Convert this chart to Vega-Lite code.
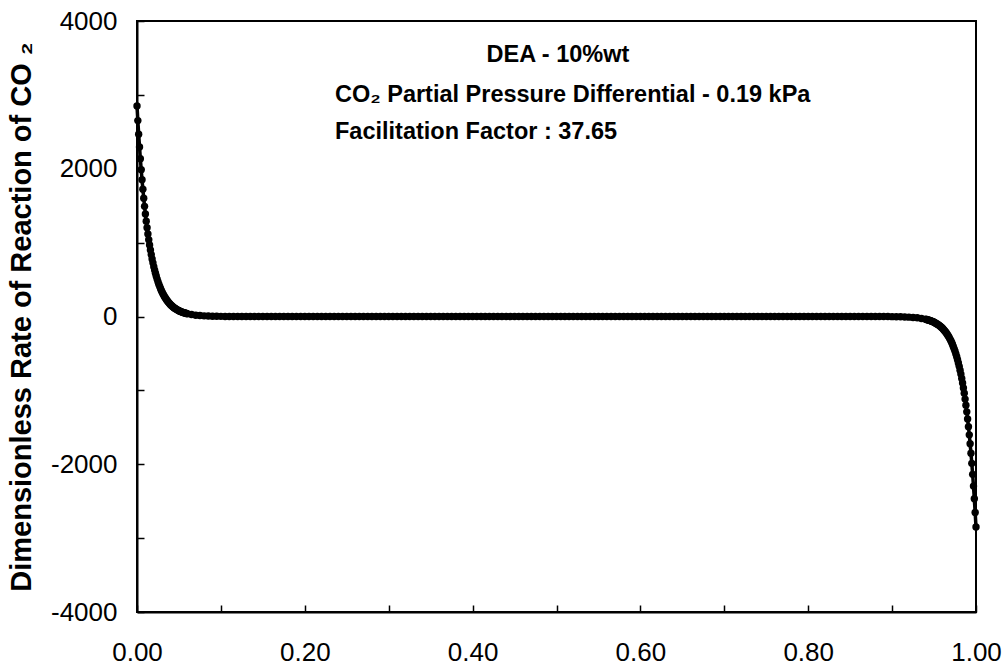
{
  "$schema": "https://vega.github.io/schema/vega-lite/v6.json",
  "width": 839,
  "height": 591,
  "autosize": {"type": "none"},
  "padding": {"left": 137, "top": 21, "right": 31, "bottom": 56},
  "background": "white",
  "config": {
    "font": "Liberation Sans",
    "view": {"stroke": "black", "strokeWidth": 2},
    "axis": {"grid": false, "domainColor": "black", "domainWidth": 2, "tickColor": "black", "tickWidth": 1.5, "tickSize": -7, "labelColor": "black", "labelFont": "Liberation Sans", "labelFontSize": 26, "labelFlush": false, "labelOverlap": false}
  },
  "datasets": {
    "curve": [
      {"x":0,"y":2850},{"x":0.001,"y":2652},{"x":0.002,"y":2468},{"x":0.003,"y":2296},{"x":0.004,"y":2137},{"x":0.005,"y":1988},{"x":0.006,"y":1850},{"x":0.007,"y":1722},{"x":0.008,"y":1602},{"x":0.009,"y":1491},
      {"x":0.010,"y":1387},{"x":0.011,"y":1291},{"x":0.012,"y":1201},{"x":0.013,"y":1118},{"x":0.014,"y":1040},{"x":0.015,"y":968},{"x":0.016,"y":901},{"x":0.017,"y":838},{"x":0.018,"y":780},{"x":0.019,"y":726},
      {"x":0.020,"y":675},{"x":0.021,"y":628},{"x":0.022,"y":585},{"x":0.023,"y":544},{"x":0.024,"y":506},{"x":0.025,"y":471},{"x":0.026,"y":438},{"x":0.027,"y":408},{"x":0.028,"y":380},{"x":0.029,"y":353},
      {"x":0.030,"y":329},{"x":0.031,"y":306},{"x":0.032,"y":285},{"x":0.033,"y":265},{"x":0.034,"y":246},{"x":0.035,"y":229},{"x":0.036,"y":213},{"x":0.037,"y":199},{"x":0.038,"y":185},{"x":0.039,"y":172},
      {"x":0.040,"y":160},{"x":0.041,"y":149},{"x":0.042,"y":139},{"x":0.043,"y":129},{"x":0.044,"y":120},{"x":0.045,"y":112},{"x":0.046,"y":104},{"x":0.047,"y":97},{"x":0.048,"y":90},{"x":0.049,"y":84},
      {"x":0.050,"y":78},{"x":0.051,"y":72},{"x":0.052,"y":67},{"x":0.053,"y":63},{"x":0.054,"y":58},{"x":0.055,"y":54},{"x":0.056,"y":51},{"x":0.057,"y":47},{"x":0.058,"y":44},{"x":0.059,"y":41},
      {"x":0.060,"y":38},{"x":0.065,"y":26},{"x":0.070,"y":18},{"x":0.075,"y":13},{"x":0.080,"y":9},{"x":0.085,"y":6},{"x":0.090,"y":4},{"x":0.095,"y":3},{"x":0.100,"y":2},{"x":0.105,"y":1},{"x":0.110,"y":1},
      {"x":0.115,"y":0},{"x":0.120,"y":0},{"x":0.125,"y":0},{"x":0.130,"y":0},{"x":0.135,"y":0},{"x":0.140,"y":0},{"x":0.145,"y":0},{"x":0.150,"y":0},{"x":0.155,"y":0},{"x":0.160,"y":0},
      {"x":0.165,"y":0},{"x":0.170,"y":0},{"x":0.175,"y":0},{"x":0.180,"y":0},{"x":0.185,"y":0},{"x":0.190,"y":0},{"x":0.195,"y":0},{"x":0.200,"y":0},{"x":0.205,"y":0},{"x":0.210,"y":0},
      {"x":0.215,"y":0},{"x":0.220,"y":0},{"x":0.225,"y":0},{"x":0.230,"y":0},{"x":0.235,"y":0},{"x":0.240,"y":0},{"x":0.245,"y":0},{"x":0.250,"y":0},{"x":0.255,"y":0},{"x":0.260,"y":0},
      {"x":0.265,"y":0},{"x":0.270,"y":0},{"x":0.275,"y":0},{"x":0.280,"y":0},{"x":0.285,"y":0},{"x":0.290,"y":0},{"x":0.295,"y":0},{"x":0.300,"y":0},{"x":0.305,"y":0},{"x":0.310,"y":0},
      {"x":0.315,"y":0},{"x":0.320,"y":0},{"x":0.325,"y":0},{"x":0.330,"y":0},{"x":0.335,"y":0},{"x":0.340,"y":0},{"x":0.345,"y":0},{"x":0.350,"y":0},{"x":0.355,"y":0},{"x":0.360,"y":0},
      {"x":0.365,"y":0},{"x":0.370,"y":0},{"x":0.375,"y":0},{"x":0.380,"y":0},{"x":0.385,"y":0},{"x":0.390,"y":0},{"x":0.395,"y":0},{"x":0.400,"y":0},{"x":0.405,"y":0},{"x":0.410,"y":0},
      {"x":0.415,"y":0},{"x":0.420,"y":0},{"x":0.425,"y":0},{"x":0.430,"y":0},{"x":0.435,"y":0},{"x":0.440,"y":0},{"x":0.445,"y":0},{"x":0.450,"y":0},{"x":0.455,"y":0},{"x":0.460,"y":0},
      {"x":0.465,"y":0},{"x":0.470,"y":0},{"x":0.475,"y":0},{"x":0.480,"y":0},{"x":0.485,"y":0},{"x":0.490,"y":0},{"x":0.495,"y":0},{"x":0.500,"y":0},{"x":0.505,"y":0},{"x":0.510,"y":0},
      {"x":0.515,"y":0},{"x":0.520,"y":0},{"x":0.525,"y":0},{"x":0.530,"y":0},{"x":0.535,"y":0},{"x":0.540,"y":0},{"x":0.545,"y":0},{"x":0.550,"y":0},{"x":0.555,"y":0},{"x":0.560,"y":0},
      {"x":0.565,"y":0},{"x":0.570,"y":0},{"x":0.575,"y":0},{"x":0.580,"y":0},{"x":0.585,"y":0},{"x":0.590,"y":0},{"x":0.595,"y":0},{"x":0.600,"y":0},{"x":0.605,"y":0},{"x":0.610,"y":0},
      {"x":0.615,"y":0},{"x":0.620,"y":0},{"x":0.625,"y":0},{"x":0.630,"y":0},{"x":0.635,"y":0},{"x":0.640,"y":0},{"x":0.645,"y":0},{"x":0.650,"y":0},{"x":0.655,"y":0},{"x":0.660,"y":0},
      {"x":0.665,"y":0},{"x":0.670,"y":0},{"x":0.675,"y":0},{"x":0.680,"y":0},{"x":0.685,"y":0},{"x":0.690,"y":0},{"x":0.695,"y":0},{"x":0.700,"y":0},{"x":0.705,"y":0},{"x":0.710,"y":0},
      {"x":0.715,"y":0},{"x":0.720,"y":0},{"x":0.725,"y":0},{"x":0.730,"y":0},{"x":0.735,"y":0},{"x":0.740,"y":0},{"x":0.745,"y":0},{"x":0.750,"y":0},{"x":0.755,"y":0},{"x":0.760,"y":0},
      {"x":0.765,"y":0},{"x":0.770,"y":0},{"x":0.775,"y":0},{"x":0.780,"y":0},{"x":0.785,"y":0},{"x":0.790,"y":0},{"x":0.795,"y":0},{"x":0.800,"y":0},{"x":0.805,"y":0},{"x":0.810,"y":0},
      {"x":0.815,"y":0},{"x":0.820,"y":0},{"x":0.825,"y":0},{"x":0.830,"y":0},{"x":0.835,"y":0},{"x":0.840,"y":0},{"x":0.845,"y":0},{"x":0.850,"y":0},{"x":0.855,"y":0},{"x":0.860,"y":0},
      {"x":0.865,"y":0},{"x":0.870,"y":0},{"x":0.875,"y":0},{"x":0.880,"y":0},{"x":0.885,"y":0},
      {"x":0.890,"y":-1},{"x":0.895,"y":-1},{"x":0.900,"y":-2},{"x":0.905,"y":-3},{"x":0.910,"y":-4},{"x":0.915,"y":-6},{"x":0.920,"y":-9},{"x":0.925,"y":-13},{"x":0.930,"y":-18},{"x":0.935,"y":-26},
      {"x":0.940,"y":-38},{"x":0.941,"y":-41},{"x":0.942,"y":-44},{"x":0.943,"y":-47},{"x":0.944,"y":-51},{"x":0.945,"y":-54},{"x":0.946,"y":-58},{"x":0.947,"y":-63},{"x":0.948,"y":-67},{"x":0.949,"y":-72},
      {"x":0.950,"y":-78},{"x":0.951,"y":-84},{"x":0.952,"y":-90},{"x":0.953,"y":-97},{"x":0.954,"y":-104},{"x":0.955,"y":-112},{"x":0.956,"y":-120},{"x":0.957,"y":-129},{"x":0.958,"y":-139},{"x":0.959,"y":-149},
      {"x":0.960,"y":-160},{"x":0.961,"y":-172},{"x":0.962,"y":-185},{"x":0.963,"y":-199},{"x":0.964,"y":-213},{"x":0.965,"y":-229},{"x":0.966,"y":-246},{"x":0.967,"y":-265},{"x":0.968,"y":-285},{"x":0.969,"y":-306},
      {"x":0.970,"y":-329},{"x":0.971,"y":-353},{"x":0.972,"y":-380},{"x":0.973,"y":-408},{"x":0.974,"y":-438},{"x":0.975,"y":-471},{"x":0.976,"y":-506},{"x":0.977,"y":-544},{"x":0.978,"y":-585},{"x":0.979,"y":-628},
      {"x":0.980,"y":-675},{"x":0.981,"y":-726},{"x":0.982,"y":-780},{"x":0.983,"y":-838},{"x":0.984,"y":-901},{"x":0.985,"y":-968},{"x":0.986,"y":-1040},{"x":0.987,"y":-1118},{"x":0.988,"y":-1201},{"x":0.989,"y":-1291},
      {"x":0.990,"y":-1387},{"x":0.991,"y":-1491},{"x":0.992,"y":-1602},{"x":0.993,"y":-1722},{"x":0.994,"y":-1850},{"x":0.995,"y":-1988},{"x":0.996,"y":-2137},{"x":0.997,"y":-2296},{"x":0.998,"y":-2468},{"x":0.999,"y":-2652},
      {"x":1.000,"y":-2850}
    ],
    "notes": [
      {"x":0.4166,"y":3441,"t":"DEA - 10%wt"},
      {"x":0.236,"y":2908,"t":"CO₂ Partial Pressure Differential - 0.19 kPa"},
      {"x":0.236,"y":2399,"t":"Facilitation Factor : 37.65"}
    ]
  },
  "layer": [
    {
      "data": {"name": "curve"},
      "mark": {"type": "line", "color": "black", "strokeWidth": 3.5, "clip": false,
        "point": {"filled": true, "color": "black", "size": 55, "opacity": 1}},
      "encoding": {
        "x": {"field": "x", "type": "quantitative",
          "scale": {"domain": [0, 1], "nice": false, "zero": false},
          "axis": {"title": null, "values": [0,0.1,0.2,0.3,0.4,0.5,0.6,0.7,0.8,0.9,1], "format": ".2f",
            "labelExpr": "round(datum.value*10) % 2 === 0 ? datum.label : ''", "labelPadding": 34}},
        "y": {"field": "y", "type": "quantitative",
          "scale": {"domain": [-4000, 4000], "nice": false, "zero": false},
          "axis": {"title": "Dimensionless Rate of Reaction of CO ₂", "titleFont": "Liberation Sans", "titleFontSize": 29, "titleFontWeight": "bold", "titleColor": "black", "titlePadding": 14,
            "values": [-4000,-3000,-2000,-1000,0,1000,2000,3000,4000],
            "labelExpr": "datum.value % 2000 === 0 ? '' + datum.value : ''", "labelPadding": 27}}
      }
    },
    {
      "data": {"name": "notes"},
      "mark": {"type": "text", "align": "left", "baseline": "alphabetic", "font": "Liberation Sans", "fontSize": 23.5, "fontWeight": "bold", "color": "black"},
      "encoding": {
        "x": {"field": "x", "type": "quantitative"},
        "y": {"field": "y", "type": "quantitative"},
        "text": {"field": "t"}
      }
    }
  ]
}
